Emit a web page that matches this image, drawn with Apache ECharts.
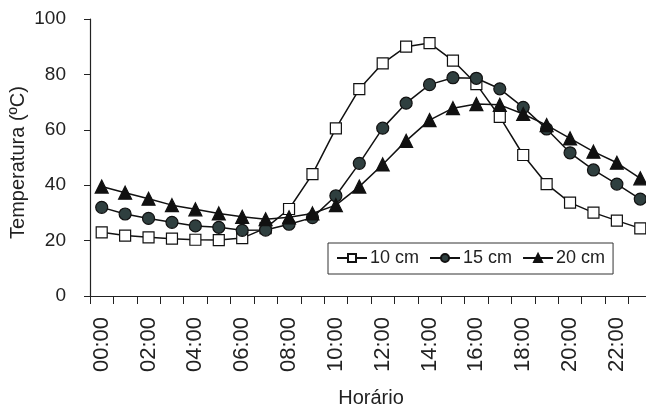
<!DOCTYPE html>
<html>
<head>
<meta charset="utf-8">
<script src="https://cdn.jsdelivr.net/npm/echarts@6/dist/echarts.min.js"></script>
<style>
  html, body { margin: 0; padding: 0; background: #fff; }
  #chart { width: 646px; height: 408px; }
</style>
</head>
<body>
<div id="chart"></div>
<script>
// horas do dia
var horas = ["00:00","01:00","02:00","03:00","04:00","05:00","06:00","07:00","08:00","09:00","10:00","11:00",
             "12:00","13:00","14:00","15:00","16:00","17:00","18:00","19:00","20:00","21:00","22:00","23:00"];
// temperatura por profundidade
var prof10 = [23.0, 21.8, 21.2, 20.7, 20.3, 20.2, 20.9, 24.5, 31.4, 44.0, 60.5, 74.7,
              84.0, 90.0, 91.3, 85.0, 76.5, 64.7, 50.9, 40.4, 33.7, 30.1, 27.2, 24.4];
var prof15 = [32.0, 29.6, 28.0, 26.6, 25.3, 24.8, 23.7, 23.8, 25.9, 28.3, 36.2, 47.9,
              60.6, 69.6, 76.3, 78.8, 78.6, 74.8, 68.1, 60.3, 51.7, 45.5, 40.4, 35.0];
var prof20 = [39.5, 37.3, 35.1, 32.8, 31.3, 29.8, 28.6, 27.7, 28.4, 29.8, 32.8, 39.5,
              47.5, 56.0, 63.5, 67.8, 69.3, 69.0, 65.7, 61.7, 56.9, 52.1, 48.1, 42.5];

var chart = echarts.init(document.getElementById('chart'));
var fonte = 'Liberation Sans, Arial, sans-serif';
var cor = '#222';

function serie(nome, dados, simbolo, tam, preench) {
  return {
    name: nome,
    type: 'line',
    data: dados,
    symbol: simbolo,
    symbolSize: tam,
    showAllSymbol: true,
    lineStyle: { color: '#111', width: 1.5 },
    itemStyle: { color: preench, borderColor: '#111', borderWidth: 1.2 }
  };
}

var option = {
  animation: false,
  grid: { left: 90, right: -6, top: 19, bottom: 112, outerBoundsMode: 'none', containLabel: false },
  legend: {
    left: 328, top: 243,
    width: 285,
    padding: [6, 8, 7, 8],
    borderColor: '#333', borderWidth: 1,
    itemWidth: 30, itemHeight: 10, itemGap: 10,
    textStyle: { fontFamily: fonte, fontSize: 18, color: cor, padding: [0, 0, 0, -2] },
    data: ['10 cm', '15 cm', '20 cm']
  },
  xAxis: {
    type: 'category',
    data: horas,
    boundaryGap: true,
    name: 'Horário',
    nameLocation: 'middle',
    nameGap: 92,
    nameMoveOverlap: false,
    nameTextStyle: { fontFamily: fonte, fontSize: 20, color: cor },
    axisLine: { lineStyle: { color: '#222', width: 1.2 } },
    axisTick: { show: true, length: 8, interval: 0, lineStyle: { color: '#222' } },
    axisLabel: { interval: 1, rotate: 90, margin: 21, fontFamily: fonte, fontSize: 22, color: cor },
    splitLine: { show: false }
  },
  yAxis: {
    type: 'value',
    min: 0, max: 100, interval: 20,
    name: 'Temperatura (ºC)',
    nameLocation: 'middle',
    nameGap: 62,
    nameMoveOverlap: false,
    nameTextStyle: { fontFamily: fonte, fontSize: 20, color: cor, padding: [0, 10, 0, 0] },
    axisLine: { show: true, lineStyle: { color: '#222', width: 1.2 } },
    axisTick: { show: true, inside: false, length: 6, lineStyle: { color: '#222' } },
    axisLabel: { margin: 24, fontFamily: fonte, fontSize: 19, color: cor },
    splitLine: { show: false }
  },
  series: [
    serie('10 cm', prof10, 'rect', 11, '#fff'),
    serie('15 cm', prof15, 'circle', 12, '#2f3f3f'),
    serie('20 cm', prof20, 'triangle', 13, '#111')
  ]
};
chart.setOption(option);
</script>
</body>
</html>
